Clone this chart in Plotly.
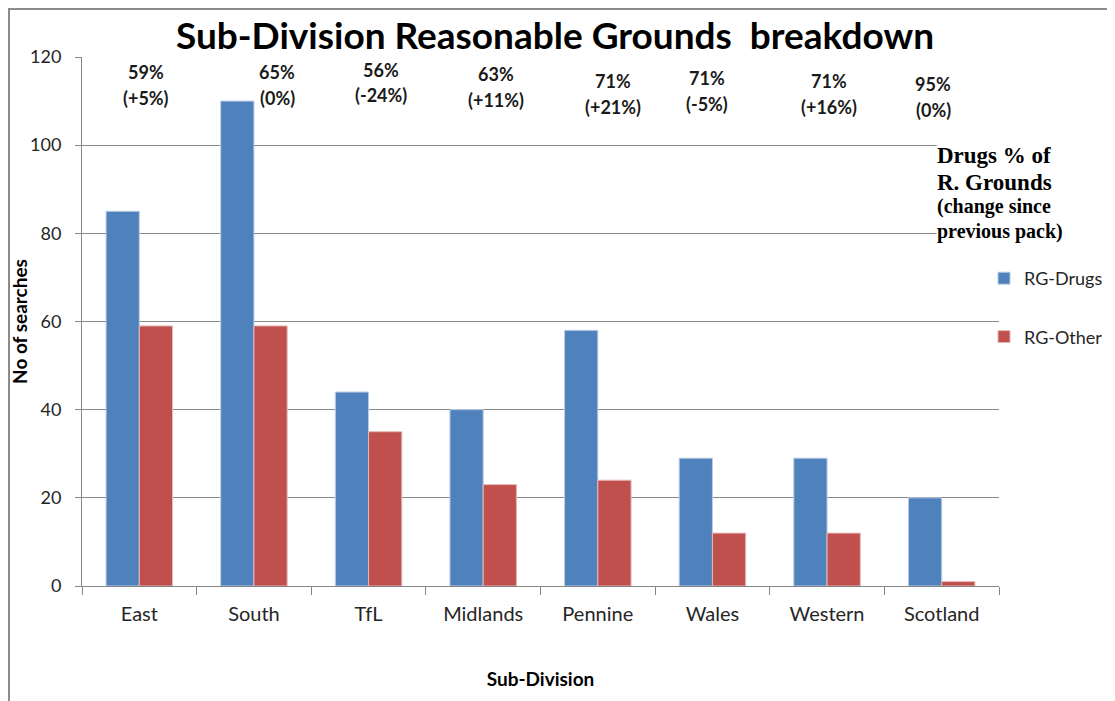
import plotly.graph_objects as go

categories = ["East", "South", "TfL", "Midlands", "Pennine", "Wales", "Western", "Scotland"]
rg_drugs = [85, 110, 44, 40, 58, 29, 29, 20]
rg_other = [59, 59, 35, 23, 24, 12, 12, 1]
pct_labels = ["59%", "65%", "56%", "63%", "71%", "71%", "71%", "95%"]
chg_labels = ["(+5%)", "(0%)", "(-24%)", "(+11%)", "(+21%)", "(-5%)", "(+16%)", "(0%)"]
y_ticks = [0, 20, 40, 60, 80, 100, 120]

# label placement (reference pixel positions: centre x, line-1 y, line-2 y)
label_px = [146, 277, 381, 496, 613, 707, 829, 933]
line1_py = [72, 72, 70, 74, 81, 78, 81, 84]
line2_py = [98, 98, 95, 100, 107, 104, 107, 110]

OFF = 8                      # page body margin
W, H = 1115, 701
PL, PT, PW, PH = 82, 57, 917, 529   # plot area in page pixels
L, T = PL - OFF, PT - OFF
R, B = W - L - PW, H - T - PH

def px(xp):
    return (xp - PL) / PW

def py(yp):
    return (PT + PH - yp) / PH

FONT = "Lato, 'Open Sans', sans-serif"
SERIF = "'Liberation Serif', 'Times New Roman', serif"
fig = go.Figure()
fig.add_trace(go.Bar(x=categories, y=rg_drugs, name="RG-Drugs", legendgroup="a",
                     marker=dict(color="#4F81BD", line=dict(color="#B9CDE5", width=1))))
fig.add_trace(go.Bar(x=categories, y=rg_other, name="RG-Other", legendgroup="b",
                     marker=dict(color="#C0504D", line=dict(color="#E6B9B8", width=1))))

anns = []
for i in range(len(categories)):
    for txt, yy in ((pct_labels[i], line1_py[i]), (chg_labels[i], line2_py[i])):
        anns.append(dict(x=px(label_px[i]), xref="paper", xanchor="center",
                         y=py(yy), yref="paper", yanchor="middle",
                         text="<b>%s</b>" % txt, showarrow=False,
                         font=dict(family=FONT, size=18, color="#1a1a1a"),
                         bgcolor="white", borderpad=0))

header = [("Drugs % of", 155, 23), ("R. Grounds", 182, 23),
          ("(change since", 206, 20), ("previous pack)", 231, 20)]
for txt, yy, sz in header:
    anns.append(dict(x=px(936), xref="paper", xanchor="left", y=py(yy), yref="paper",
                     yanchor="middle", text="<b>%s</b>" % txt, showarrow=False,
                     font=dict(family=SERIF, size=sz, color="black"),
                     bgcolor="white", borderpad=0))

fig.update_layout(
    width=W, height=H,
    margin=dict(l=L, r=R, t=T, b=B, autoexpand=False),
    paper_bgcolor="white", plot_bgcolor="white",
    barmode="group", bargap=0.42, bargroupgap=0,
    title=dict(text="<b>Sub-Division Reasonable Grounds&nbsp; breakdown</b>",
               xref="container", x=(555 - OFF) / W, xanchor="center",
               y=1 - (36 - OFF) / H, yanchor="middle",
               font=dict(family=FONT, size=37, color="black")),
    font=dict(family=FONT, color="#262626"),
    legend=dict(x=px(984), xanchor="left", y=py(260), yanchor="top",
                font=dict(family=FONT, size=18, color="#262626"),
                tracegroupgap=32, bgcolor="rgba(0,0,0,0)", itemwidth=30),
    xaxis=dict(showline=True, linecolor="#868686", linewidth=1, ticks="outside",
               tickson="boundaries", ticklen=8, tickcolor="#868686", automargin=False,
               tickfont=dict(size=20, color="#262626"), ticklabelstandoff=10,
               title=dict(text="<b>Sub-Division</b>", font=dict(size=19, color="black"), standoff=48)),
    yaxis=dict(range=[0, 120], tickvals=y_ticks, showline=True, linecolor="#868686", linewidth=1,
               ticks="outside", ticklen=6, tickcolor="#868686", showgrid=True, gridcolor="#868686",
               gridwidth=1, zeroline=False, tickfont=dict(size=18, color="#262626"), automargin=False,
               ticklabelstandoff=10,
               title=dict(text="<b>No of searches</b>", font=dict(size=19, color="black"), standoff=7)),
    annotations=anns,
    shapes=[dict(type="rect", xref="paper", yref="paper", x0=px(9), x1=px(1140), y0=py(730), y1=py(9),
                 line=dict(color="#8c8c8c", width=2), fillcolor="rgba(0,0,0,0)", layer="below")],
)

fig.write_html("out.html")
